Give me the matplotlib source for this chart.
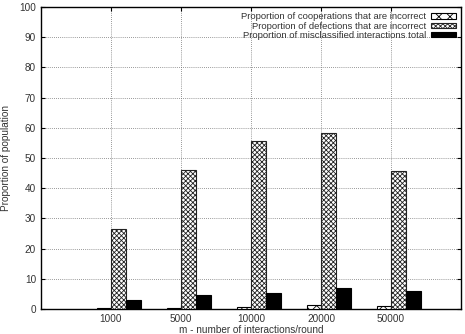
import matplotlib
matplotlib.use("Agg")
import matplotlib.pyplot as plt
from matplotlib.patches import Rectangle
import numpy as np

plt.rcParams['font.family'] = ['Liberation Sans', 'DejaVu Sans']
plt.rcParams['hatch.linewidth'] = 0.6

categories = ["1000", "5000", "10000", "20000", "50000"]
coop_incorrect = [0.3, 0.3, 0.8, 1.2, 1.0]
defect_incorrect = [26.4, 46.0, 55.6, 58.2, 45.6]
total_misclassified = [3.0, 4.8, 5.4, 6.9, 5.9]
labels = ["Proportion of cooperations that are incorrect",
          "Proportion of defections that are incorrect",
          "Proportion of misclassified interactions total"]

fig = plt.figure(figsize=(4.65, 3.34), dpi=100)
ax = fig.add_axes([41/465, 25/334, 420/465, 302/334])

x = np.arange(1, len(categories) + 1)
w = 0.21
ax.bar(x - 0.1, coop_incorrect, w, facecolor='white', edgecolor='black', hatch='xxx', linewidth=0.8, label=labels[0], zorder=3)
ax.bar(x + 0.11, defect_incorrect, w, facecolor='white', edgecolor='#222222', hatch='xxxxxxx', linewidth=0.8, label=labels[1], zorder=3)
ax.bar(x + 0.32, total_misclassified, w, facecolor='black', edgecolor='black', linewidth=0.8, label=labels[2], zorder=3)

ax.set_xlim(0, 6)
ax.set_ylim(0, 100)
ax.set_xticks(x)
ax.set_xticklabels(categories)
ax.set_yticks(np.arange(0, 101, 10))
ax.tick_params(direction='in', top=True, right=True, labelsize=7.2, length=3, width=0.8,
               labelcolor='#333333')
ax.grid(True, linestyle=(0, (1, 1.5)), color='#777777', linewidth=0.6, zorder=0)
for s in ax.spines.values():
    s.set_linewidth(1.0)

# white key area covering the grid, as in the reference
ax.add_patch(Rectangle((0.271, 0.891), 0.72, 0.1, transform=ax.transAxes,
                       facecolor='white', edgecolor='none', zorder=1))

ax.set_xlabel("m - number of interactions/round", fontsize=7.2, color='#333333')
ax.xaxis.set_label_coords(0.5, -0.052)
ax.set_ylabel("Proportion of population", fontsize=7.2, color='#333333')
ax.yaxis.set_label_coords(-0.072, 0.5)

leg = ax.legend(loc='upper right', fontsize=6.8, markerfirst=False, frameon=False,
                handlelength=2.6, handleheight=0.5, labelspacing=0.05,
                borderpad=0.25, borderaxespad=0.3, handletextpad=0.5)
for t in leg.get_texts():
    t.set_ha('right')
    t.set_color('#333333')

fig.savefig("out.png", dpi=100)
